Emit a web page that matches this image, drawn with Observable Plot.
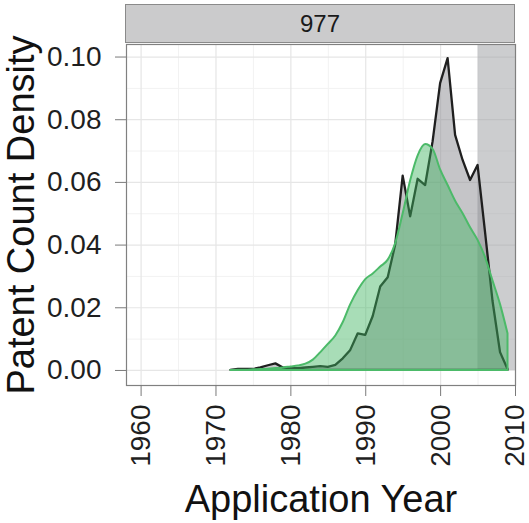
<!DOCTYPE html>
<html>
<head>
<meta charset="utf-8">
<script src="https://cdn.jsdelivr.net/npm/d3@7"></script>
<script src="https://cdn.jsdelivr.net/npm/@observablehq/plot@0.6"></script>
<style>
  html, body { margin: 0; padding: 0; background: #ffffff; }
  #wrap { position: relative; width: 529px; height: 523px; font-family: "Liberation Sans", Arial, sans-serif; }
  #strip { position: absolute; left: 125px; top: 4px; width: 388px; height: 37px;
           background: #cbcbcc; border: 1.5px solid #8a8a8a; color: #1a1a1a;
           font-size: 24px; line-height: 37px; text-align: center; }
  #chart { position: absolute; left: 0; top: 0; }
</style>
</head>
<body>
<div id="wrap">
  <div id="chart"></div>
  <div id="strip">977</div>
</div>
<script>
const facetLabel = "977";
const years = [1972,1973,1974,1975,1976,1977,1978,1979,1980,1981,1982,1983,1984,1985,1986,1987,1988,1989,1990,
  1991,1992,1993,1994,1995,1996,1997,1998,1999,2000,2001,2002,2003,2004,2005,2006,2007,2008,2009];
const observedDensity = [0,0.0003,0.0003,0.0003,0.0008,0.0015,0.0021,0.0008,0.0006,0.0006,0.0008,0.0010,0.0012,
  0.0010,0.0016,0.0037,0.0064,0.0117,0.0112,0.0172,0.0266,0.0296,0.0400,0.0620,0.0490,0.0610,0.0590,0.0730,
  0.0915,0.0995,0.0750,0.0670,0.0606,0.0654,0.0440,0.0220,0.0057,0.0003];
const smoothDensity = [0,0.0001,0.0001,0.0002,0.0003,0.0004,0.0006,0.0008,0.0011,0.0014,0.0020,0.0033,0.0057,
  0.0083,0.0110,0.0153,0.0210,0.0255,0.0290,0.0308,0.0330,0.0352,0.0405,0.0500,0.0605,0.0685,0.0721,0.0705,
  0.0640,0.0590,0.0540,0.0500,0.0455,0.0415,0.0360,0.0285,0.0210,0.0117];
const xTicks = [1960,1970,1980,1990,2000,2010];
const xMinor = [1965,1975,1985,1995,2005];
const yTicks = [0,0.02,0.04,0.06,0.08,0.10];
const yMinor = [0.01,0.03,0.05,0.07,0.09];
const shadeStart = [2005];
const xDomain = [1958.05, 2010];
const yDomain = [-0.0048, 0.1040];

const observed = years.map((y, i) => ({year: y, d: observedDensity[i]}));
const smooth = years.map((y, i) => ({year: y, d: smoothDensity[i]}));
const shade = shadeStart.map(s => ({x1: s, x2: xDomain[1], y1: 0, y2: yDomain[1]}));

const plot = Plot.plot({
  width: 529,
  height: 523,
  marginLeft: 126,
  marginRight: 14,
  marginTop: 44,
  marginBottom: 138,
  style: {fontFamily: "Liberation Sans, Arial, sans-serif", background: "#ffffff"},
  x: {domain: xDomain},
  y: {domain: yDomain},
  marks: [
    Plot.gridX(xMinor, {stroke: "#f2f2f2", strokeOpacity: 1, strokeWidth: 1}),
    Plot.gridY(yMinor, {stroke: "#f2f2f2", strokeOpacity: 1, strokeWidth: 1}),
    Plot.gridX(xTicks, {stroke: "#e6e6e6", strokeOpacity: 1, strokeWidth: 1.2}),
    Plot.gridY(yTicks, {stroke: "#e6e6e6", strokeOpacity: 1, strokeWidth: 1.2}),
    Plot.rect(shade, {x1: "x1", x2: "x2", y1: "y1", y2: "y2", fill: "#9a9ba0", fillOpacity: 0.5}),
    Plot.areaY(observed, {x: "year", y: "d", fill: "#8b8b91", fillOpacity: 0.5,
      stroke: "#1f1f1f", strokeWidth: 2.3, strokeLinejoin: "round"}),
    Plot.areaY(smooth, {x: "year", y: "d", curve: "monotone-x", fill: "#3db35f", fillOpacity: 0.45,
      stroke: "#4cba69", strokeWidth: 2, strokeLinejoin: "round"}),
    Plot.frame({stroke: "#808080", strokeWidth: 1.2}),
    Plot.axisY({ticks: yTicks, tickFormat: d3.format(".2f"), tickSize: 11, tickPadding: 14,
      fontSize: 28, stroke: "#7a7a7a", color: "#1f1f1f", label: null}),
    Plot.axisX({ticks: xTicks, tickFormat: d3.format("d"), tickSize: 11, tickPadding: 8, tickRotate: -90,
      fontSize: 28, stroke: "#7a7a7a", color: "#1f1f1f", label: null}),
    Plot.text(["Patent Count Density"], {frameAnchor: "left", rotate: -90, dx: -105,
      textAnchor: "middle", lineAnchor: "middle", fontSize: 38, fill: "#111"}),
    Plot.text(["Application Year"], {frameAnchor: "bottom", dy: 114, textAnchor: "middle",
      lineAnchor: "middle", fontSize: 38, fill: "#111"})
  ]
});
document.getElementById("chart").appendChild(plot);
</script>
</body>
</html>
